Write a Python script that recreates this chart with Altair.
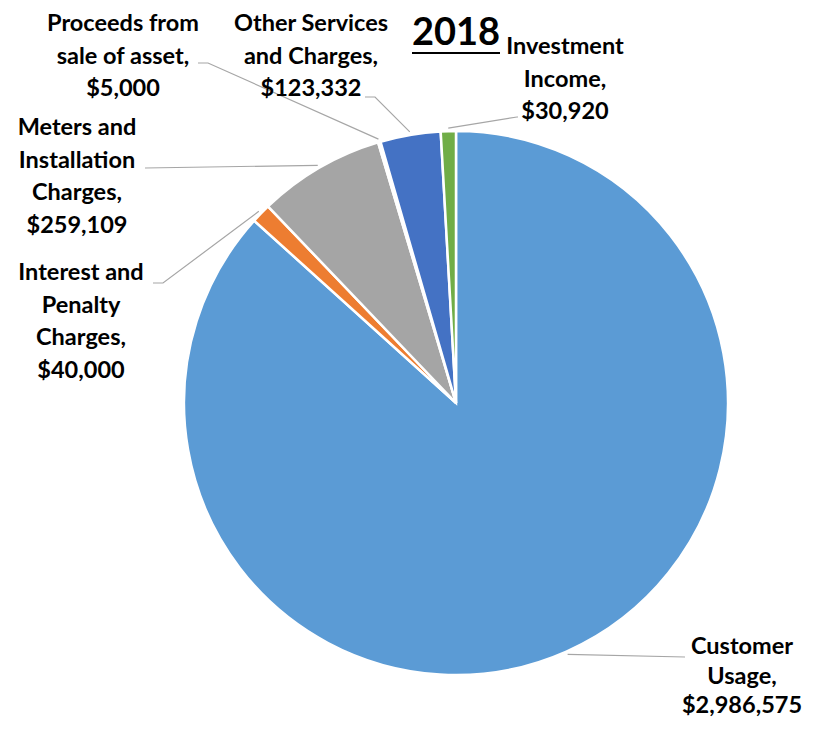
import math
import altair as alt
import pandas as pd

# ---- data ----
categories = ["Customer Usage", "Interest and Penalty Charges", "Meters and Installation Charges",
              "Proceeds from sale of asset", "Other Services and Charges", "Investment Income"]
values = [2986575, 40000, 259109, 5000, 123332, 30920]
colors = ["#5B9BD5", "#ED7D31", "#A5A5A5", "#FFC000", "#4472C4", "#70AD47"]
label_lines = [
    ["Customer", "Usage,"],
    ["Interest and", "Penalty", "Charges,"],
    ["Meters and", "Installation", "Charges,"],
    ["Proceeds from", "sale of asset,"],
    ["Other Services", "and Charges,"],
    ["Investment", "Income,"],
]

# ---- layout (pixels in plot area) ----
W, H = 797, 714
CX, CY, R = 448, 395, 272
label_x = [734, 73, 69, 115, 303, 557]
label_y = [639, 265, 120, 16, 16, 39]   # first-line centres
line_h = [29.5, 32.5, 32.5, 32.5, 32.5, 32.5]
# leader line elbows / ends
leader_mid = [None, (155, 275), None, (200, 55), (367, 89), (509, 109)]
leader_end = [(677, 649), (145, 275), (137, 160), (190, 55), (357, 89), (510, 109)]

df = pd.DataFrame({"category": categories, "value": values, "idx": range(len(values))})

total = sum(values)
texts = []
line_rows = []
cum = 0
for i, (cat, v) in enumerate(zip(categories, values)):
    mid = (cum + v / 2) / total * 2 * math.pi
    cum += v
    sx = CX + (R + 3) * math.sin(mid)
    sy = CY - (R + 3) * math.cos(mid)
    pts = [(sx, sy)]
    if leader_mid[i]:
        pts.append(leader_mid[i])
    pts.append(leader_end[i])
    for k, (px, py) in enumerate(pts):
        line_rows.append({"cat": cat, "k": k, "px": px, "py": py})
    for j, ln in enumerate(label_lines[i] + [f"${v:,}"]):
        texts.append({"cat": cat, "txt": ln, "lx": label_x[i], "ly": label_y[i] + j * line_h[i]})

pie = alt.Chart(df).mark_arc(radius=R, stroke="white", strokeWidth=2.5).encode(
    theta=alt.Theta("value:Q", stack=True),
    color=alt.Color("category:N", scale=alt.Scale(domain=categories, range=colors), legend=None),
    order=alt.Order("idx:Q"),
    x=alt.value(CX), y=alt.value(CY),
)

leaders = alt.Chart(pd.DataFrame(line_rows)).mark_line(color="#A6A6A6", strokeWidth=1.2).encode(
    x=alt.X("px:Q", scale=None, axis=None),
    y=alt.Y("py:Q", scale=None, axis=None),
    detail="cat:N",
    order="k:Q",
)

labels = alt.Chart(pd.DataFrame(texts)).mark_text(
    font="Lato", fontWeight="bold", fontSize=23.5,
    align="center", baseline="middle", color="#000000",
).encode(
    x=alt.X("lx:Q", scale=None, axis=None),
    y=alt.Y("ly:Q", scale=None, axis=None),
    text="txt:N",
)

title = alt.Chart(pd.DataFrame({"t": ["2018"]})).mark_text(
    font="Lato", fontWeight="bold", fontSize=38, align="center", baseline="middle", color="#000000"
).encode(x=alt.value(448), y=alt.value(26), text="t:N")

underline = alt.Chart(pd.DataFrame({"t": ["2018"]})).mark_rule(color="#000000", strokeWidth=2).encode(
    x=alt.value(404), x2=alt.value(492), y=alt.value(45), detail="t:N"
)

chart = alt.layer(pie, leaders, labels, title, underline).properties(
    width=W, height=H, autosize=alt.AutoSizeParams(type="none"), padding=0
).configure_view(stroke=None)

chart.save("out.html", embed_options={"renderer": "svg", "actions": False})
